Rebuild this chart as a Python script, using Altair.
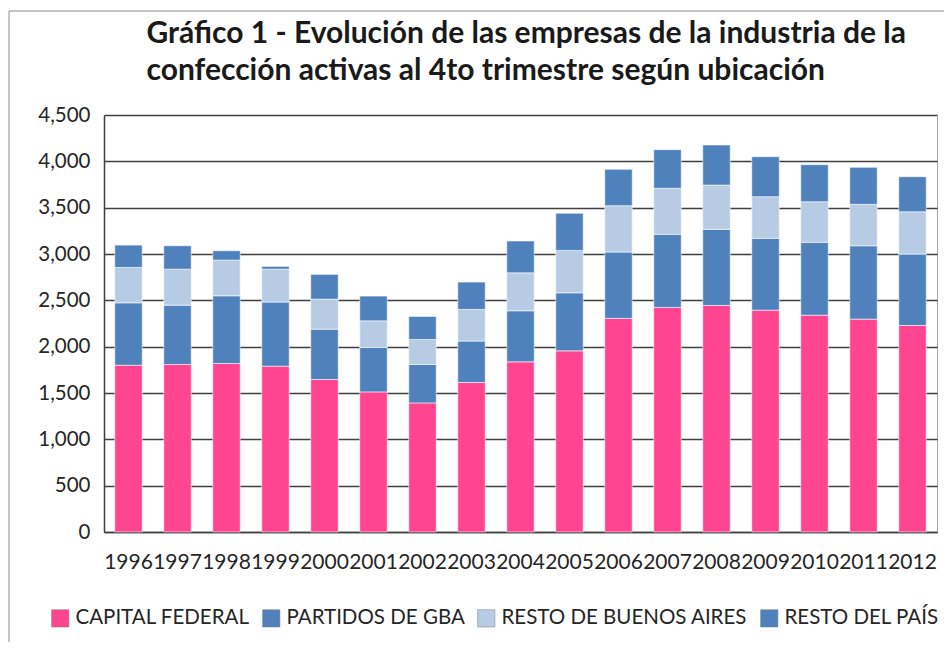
import altair as alt
import pandas as pd

years = ["1996", "1997", "1998", "1999", "2000", "2001", "2002", "2003", "2004",
         "2005", "2006", "2007", "2008", "2009", "2010", "2011", "2012"]
series = ["CAPITAL FEDERAL", "PARTIDOS DE GBA", "RESTO DE BUENOS AIRES", "RESTO DEL PAÍS"]
capital = [1800, 1808, 1819, 1790, 1646, 1512, 1393, 1613, 1836, 1955, 2305, 2424, 2445, 2394, 2340, 2297, 2229]
partidos = [673, 640, 730, 691, 543, 479, 415, 447, 551, 626, 716, 788, 821, 775, 786, 792, 770]
resto_ba = [382, 389, 385, 356, 324, 288, 270, 342, 410, 458, 500, 497, 478, 449, 438, 447, 457]
resto_pais = [241, 252, 101, 29, 267, 267, 248, 295, 343, 400, 393, 417, 432, 432, 400, 399, 378]
colors = ["#FF4590", "#4F81BD", "#B7CCE4", "#4F81BD"]
y_ticks = [0, 500, 1000, 1500, 2000, 2500, 3000, 3500, 4000, 4500]

rows = []
for i, vals in enumerate([capital, partidos, resto_ba, resto_pais]):
    for y, v in zip(years, vals):
        rows.append({"year": y, "serie": series[i], "value": v, "ord": i})
df = pd.DataFrame(rows)

FONT = "Lato"

bars = alt.Chart(df).mark_bar(stroke="white", strokeWidth=0.8, strokeOpacity=0.7).encode(
    x=alt.X("year:N", sort=years,
            scale=alt.Scale(paddingInner=0.44, paddingOuter=0.22),
            axis=alt.Axis(title=None, labelAngle=0, ticks=False, grid=False,
                          labelFontSize=21, labelPadding=19, labelFont=FONT,
                          labelColor="#262626", domainColor="#404040", domainWidth=1.5)),
    y=alt.Y("value:Q", stack="zero",
            scale=alt.Scale(domain=[0, 4500], nice=False),
            axis=alt.Axis(title=None, values=y_ticks, format=",.0f", ticks=False,
                          labelFontSize=20.5, labelPadding=14, labelFont=FONT,
                          labelColor="#262626", domainColor="#404040", domainWidth=1.5,
                          gridColor="#404040", gridWidth=1.3)),
    color=alt.Color("serie:N", sort=series,
                    scale=alt.Scale(domain=series, range=colors),
                    legend=alt.Legend(title=None, orient="none", direction="horizontal",
                                      columns=4, legendX=-54, legendY=493,
                                      symbolType="square", symbolSize=300,
                                      symbolStrokeColor="#7f7f7f", symbolStrokeWidth=0.5,
                                      labelFontSize=20.5, labelFont=FONT, labelColor="#262626",
                                      labelOffset=5, columnPadding=11, labelLimit=400)),
    order=alt.Order("ord:Q", sort="ascending"),
)

frame_df = pd.DataFrame({"a": [0]})
frame_left = alt.Chart(frame_df).mark_rule(color="#8c8c8c", strokeWidth=1).encode(
    x=alt.value(-95), y=alt.value(-104), y2=alt.value(540))
frame_top = alt.Chart(frame_df).mark_rule(color="#8c8c8c", strokeWidth=1).encode(
    x=alt.value(-95), x2=alt.value(850), y=alt.value(-104))

chart = alt.layer(bars, frame_left, frame_top).properties(
    width=833, height=417,
    autosize=alt.AutoSizeParams(type="none"),
    padding={"left": 96, "top": 107, "right": 7, "bottom": 110},
    title=alt.TitleParams(
        text=["Gráfico 1 - Evolución de las empresas de la industria de la",
              "confección activas al 4to trimestre según ubicación"],
        anchor="start", dx=138, offset=-75, fontSize=30, font=FONT, fontWeight="bold",
        color="#1a1a1a", lineHeight=37),
).configure_view(stroke="#a6a6a6", strokeWidth=1)

chart.save("out.html", embed_options={"renderer": "svg", "actions": False})
